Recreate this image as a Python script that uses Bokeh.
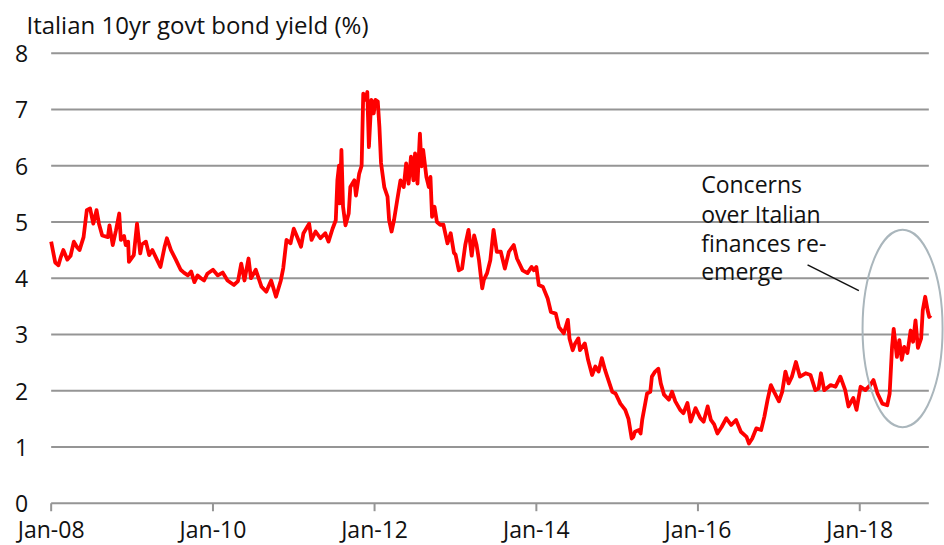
import pandas as pd
import numpy as np
from bokeh.plotting import figure
from bokeh.models import Range1d
from bokeh.core.properties import value
from bokeh.embed import file_html
from bokeh.resources import INLINE

title_text = "Italian 10yr govt bond yield (%)"
note_lines = ["Concerns", "over Italian", "finances re-", "emerge"]
tick_years = [2008, 2010, 2012, 2014, 2016, 2018]
tick_labels = ["Jan-08", "Jan-10", "Jan-12", "Jan-14", "Jan-16", "Jan-18"]
y_ticks = [0, 1, 2, 3, 4, 5, 6, 7, 8]

# decimal years
t = [
    2008.00, 2008.05, 2008.09, 2008.12, 2008.15, 2008.20, 2008.24, 2008.28, 2008.32, 2008.35,
    2008.40, 2008.44, 2008.48, 2008.52, 2008.56, 2008.59, 2008.63, 2008.70, 2008.72, 2008.76,
    2008.80, 2008.84, 2008.86, 2008.90, 2008.92, 2008.95, 2008.96,
    2009.02, 2009.06, 2009.10, 2009.12, 2009.17, 2009.21, 2009.25, 2009.29, 2009.35, 2009.40,
    2009.43, 2009.48, 2009.54, 2009.60, 2009.64, 2009.69, 2009.73, 2009.77, 2009.81, 2009.85,
    2009.89, 2009.93,
    2010.00, 2010.06, 2010.12, 2010.18, 2010.22, 2010.26, 2010.31, 2010.35, 2010.39, 2010.44,
    2010.47, 2010.53, 2010.60, 2010.66, 2010.72, 2010.78, 2010.84, 2010.87, 2010.91, 2010.96,
    2011.00, 2011.04, 2011.09, 2011.12, 2011.19, 2011.22, 2011.27, 2011.33, 2011.39, 2011.43,
    2011.48, 2011.52, 2011.54, 2011.56, 2011.57, 2011.59, 2011.61, 2011.64, 2011.68, 2011.70,
    2011.75, 2011.77, 2011.81, 2011.84, 2011.86, 2011.89, 2011.91, 2011.93, 2011.96,
    2011.99, 2012.01, 2012.04, 2012.06, 2012.08, 2012.12, 2012.16, 2012.18, 2012.21, 2012.24,
    2012.28, 2012.32, 2012.36, 2012.39, 2012.42, 2012.45, 2012.48, 2012.50, 2012.53, 2012.56,
    2012.58, 2012.60, 2012.64, 2012.67, 2012.69, 2012.71, 2012.74, 2012.77, 2012.81, 2012.85,
    2012.90, 2012.94,
    2012.98, 2013.00, 2013.04, 2013.08, 2013.12, 2013.16, 2013.20, 2013.23, 2013.26, 2013.29,
    2013.33, 2013.35, 2013.39, 2013.43, 2013.47, 2013.51, 2013.56, 2013.61, 2013.66, 2013.72,
    2013.76, 2013.83, 2013.89, 2013.94, 2013.97,
    2014.00, 2014.03, 2014.08, 2014.14, 2014.18, 2014.24, 2014.28, 2014.34, 2014.39, 2014.41,
    2014.45, 2014.48, 2014.52, 2014.54, 2014.60, 2014.64, 2014.69, 2014.73, 2014.77, 2014.81,
    2014.85, 2014.87, 2014.94,
    2014.98, 2015.04, 2015.10, 2015.14, 2015.18, 2015.20, 2015.22, 2015.27, 2015.29, 2015.31,
    2015.37, 2015.41, 2015.43, 2015.47, 2015.51, 2015.54, 2015.58, 2015.64, 2015.68, 2015.72,
    2015.78, 2015.82, 2015.87, 2015.91,
    2015.97, 2016.03, 2016.07, 2016.12, 2016.16, 2016.20, 2016.24, 2016.29, 2016.35, 2016.41,
    2016.47, 2016.53, 2016.60, 2016.63, 2016.67, 2016.72, 2016.78, 2016.82, 2016.86, 2016.90,
    2016.94,
    2017.00, 2017.04, 2017.08, 2017.12, 2017.16, 2017.21, 2017.26, 2017.33, 2017.39, 2017.45,
    2017.49, 2017.52, 2017.56, 2017.64, 2017.70, 2017.76, 2017.82, 2017.86, 2017.92,
    2017.96, 2018.01, 2018.07, 2018.13, 2018.17, 2018.22, 2018.28, 2018.34, 2018.37, 2018.40,
    2018.42, 2018.46, 2018.49, 2018.52, 2018.55, 2018.59, 2018.63, 2018.66, 2018.69, 2018.72,
    2018.76, 2018.78, 2018.81, 2018.84, 2018.86, 2018.88,
]

yld = [
    4.65, 4.28, 4.23, 4.38, 4.50, 4.33, 4.40, 4.65, 4.55, 4.50,
    4.73, 5.21, 5.24, 4.97, 5.21, 4.97, 4.76, 4.73, 4.94, 4.59,
    4.85, 5.15, 4.68, 4.75, 4.59, 4.65, 4.29,
    4.41, 4.97, 4.44, 4.60, 4.65, 4.41, 4.50, 4.38, 4.20, 4.55,
    4.71, 4.50, 4.33, 4.15, 4.10, 4.05, 4.12, 3.93, 4.05, 4.00,
    3.96, 4.08,
    4.15, 4.05, 4.10, 3.96, 3.92, 3.88, 3.95, 4.26, 3.96, 4.35,
    4.00, 4.15, 3.85, 3.76, 3.96, 3.67, 3.96, 4.18, 4.68, 4.62,
    4.88, 4.74, 4.56, 4.80, 4.97, 4.68, 4.83, 4.71, 4.80, 4.65,
    4.88, 5.03, 5.74, 6.00, 5.33, 6.28, 5.27, 4.94, 5.15, 5.62,
    5.74, 5.47, 5.86, 6.00, 7.28, 7.17, 7.31, 6.33, 7.17,
    6.93, 7.17, 7.14, 6.69, 6.05, 5.62, 5.45, 5.03, 4.83, 5.03,
    5.39, 5.74, 5.62, 6.04, 5.68, 6.16, 5.74, 6.22, 5.68, 6.57,
    5.99, 6.28, 5.80, 5.62, 5.80, 5.09, 5.27, 5.00, 4.95, 4.95,
    4.62, 4.80,
    4.45, 4.42, 4.14, 4.17, 4.59, 4.86, 4.40, 4.76, 4.59, 4.32,
    3.82, 3.97, 4.09, 4.32, 4.86, 4.47, 4.47, 4.17, 4.47, 4.59,
    4.35, 4.14, 4.09, 4.20, 4.14,
    4.20, 3.88, 3.85, 3.64, 3.40, 3.37, 3.13, 3.02, 3.26, 2.93,
    2.72, 2.84, 2.93, 2.72, 2.84, 2.55, 2.28, 2.43, 2.34, 2.58,
    2.37, 2.28, 1.98,
    1.95, 1.77, 1.66, 1.50, 1.15, 1.18, 1.27, 1.30, 1.24, 1.48,
    1.95, 1.98, 2.25, 2.34, 2.39, 2.13, 1.93, 1.84, 1.98, 1.81,
    1.66, 1.60, 1.78, 1.45,
    1.69, 1.51, 1.45, 1.72, 1.48, 1.40, 1.24, 1.35, 1.51, 1.39,
    1.48, 1.27, 1.18, 1.06, 1.15, 1.33, 1.30, 1.54, 1.84, 2.10,
    1.98,
    1.81, 1.98, 2.34, 2.13, 2.25, 2.51, 2.25, 2.31, 2.28, 2.01,
    2.04, 2.31, 2.01, 2.10, 2.07, 2.25, 2.01, 1.72, 1.87,
    1.66, 2.07, 2.01, 2.10, 2.19, 1.95, 1.77, 1.74, 1.95, 2.78,
    3.10, 2.60, 2.90, 2.55, 2.78, 2.67, 3.07, 2.87, 3.25, 2.76,
    2.93, 3.43, 3.67, 3.43, 3.31, 3.34,
]


def to_dt(v):
    yr = int(np.floor(v))
    start = pd.Timestamp(year=yr, month=1, day=1)
    end = pd.Timestamp(year=yr + 1, month=1, day=1)
    return start + (end - start) * (v - yr)


dates = [to_dt(v) for v in t]

FONT = value("Open Sans")
GRID = "#959595"
TXT = "#111111"

# visible window (years / % units)
x_start, x_end = 2007.3729, 2019.049
y_start, y_end = -0.752, 8.937
axis_start, axis_end = 2008.0, 2018.855

p = figure(width=944, height=545, output_backend="svg", toolbar_location=None,
           x_axis_type="datetime",
           x_range=Range1d(to_dt(x_start), to_dt(x_end)),
           y_range=Range1d(y_start, y_end),
           min_border_left=0, min_border_right=0,
           min_border_top=0, min_border_bottom=0)
p.xaxis.visible = False
p.yaxis.visible = False
p.outline_line_color = None
p.background_fill_color = "white"
p.border_fill_color = "white"
p.xgrid.visible = False
p.ygrid.visible = False

# horizontal gridlines incl. baseline (span only the data period)
n = len(y_ticks)
p.segment(x0=[to_dt(axis_start)] * n, x1=[to_dt(axis_end)] * n,
          y0=y_ticks, y1=y_ticks, line_color=GRID, line_width=2)

# x tick marks, pointing down 8px from the baseline
tick_dates = [to_dt(y) for y in tick_years]
p.ray(x=tick_dates, y=[0] * len(tick_dates), length=8, length_units="screen",
      angle=-np.pi / 2, line_color=GRID, line_width=2)

# x tick labels
p.text(x=tick_dates, y=[0] * len(tick_dates), text=tick_labels,
       y_offset=26, text_align="center", text_baseline="alphabetic",
       text_font=FONT, text_font_size="23px", text_color=TXT)

# y tick labels
p.text(x=[to_dt(axis_start)] * n, y=y_ticks, text=[str(v) for v in y_ticks],
       x_offset=-23, y_offset=0.5, text_align="right", text_baseline="alphabetic",
       text_font=FONT, text_font_size="23px", text_color=TXT)

# title
p.text(x=[to_dt(axis_start)], y=[8], text=[title_text],
       x_offset=-24.7, y_offset=-28.6, text_align="left", text_baseline="alphabetic",
       text_font=FONT, text_font_size="24px", text_color=TXT)

# series
p.line(dates, yld, line_color="#ff0000", line_width=3.8, line_join="round")

# highlight ellipse
year_ms = 365.25 * 86400000
p.ellipse(x=[to_dt(2018.53)], y=[3.105], width=[0.99 * year_ms], height=[3.51],
          fill_color=None, line_color="#aab6bc", line_width=2)

# leader line
p.segment(x0=[to_dt(2017.354)], y0=[4.238], x1=[to_dt(2017.989)], y1=[3.78],
          line_color=TXT, line_width=1.5)

# annotation text
p.text(x=[to_dt(2016.04)] * len(note_lines), y=[5.67, 5.15, 4.63, 4.13],
       text=note_lines, text_align="left", text_baseline="alphabetic",
       text_font=FONT, text_font_size="23px", text_color=TXT)

open("out.html", "w").write(file_html(p, INLINE))
